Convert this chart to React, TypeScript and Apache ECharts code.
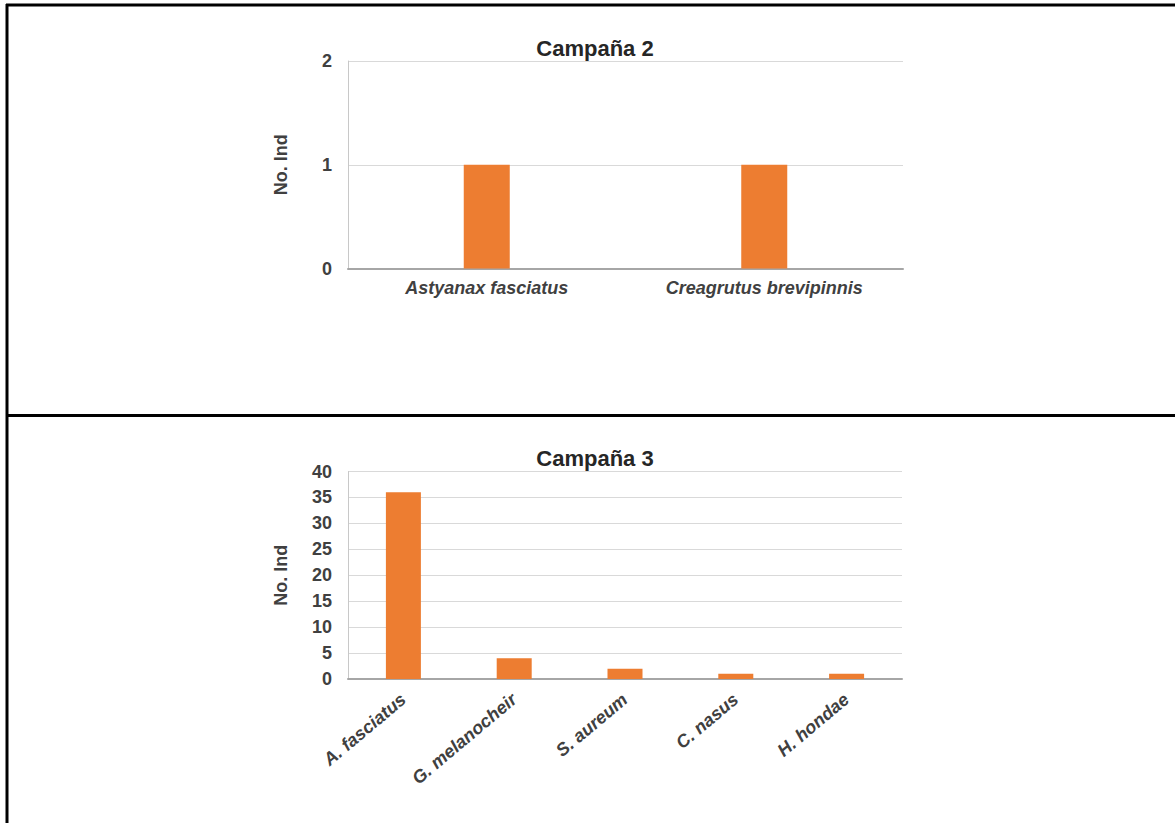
import React, { useEffect, useRef } from "react";
import * as echarts from "echarts";

// Campaña 2
const campaign2Species = ["Astyanax fasciatus", "Creagrutus brevipinnis"];
const campaign2Counts = [1, 1];
const campaign2Max = 2;
const campaign2Step = 1;

// Campaña 3
const campaign3Species = ["A. fasciatus", "G. melanocheir", "S. aureum", "C. nasus", "H. hondae"];
const campaign3Counts = [36, 4, 2, 1, 1];
const campaign3Max = 40;
const campaign3Step = 5;

const titles = ["Campaña 2", "Campaña 3"];
const axisName = "No. Ind";

const FONT = "'Liberation Sans', Arial, Helvetica, sans-serif";
const BAR = "#ED7D31";
const TEXT = "#404040";

export default function App() {
  const ref = useRef<HTMLDivElement>(null);

  useEffect(() => {
    if (!ref.current) return;
    const chart = echarts.init(ref.current, undefined, { renderer: "svg" });

    const yAxisBase = (gridIndex: number, max: number, step: number) => ({
      type: "value" as const,
      gridIndex,
      min: 0,
      max,
      interval: step,
      name: axisName,
      nameLocation: "middle" as const,
      nameGap: 58,
      nameTextStyle: { fontFamily: FONT, fontWeight: "bold", fontSize: 18, color: TEXT },
      axisLine: { show: true, lineStyle: { color: "#c8c8c8", width: 1 } },
      axisTick: { show: false },
      axisLabel: { fontFamily: FONT, fontWeight: "bold", fontSize: 18, color: TEXT, margin: 16 },
      splitLine: { show: true, lineStyle: { color: "#d9d9d9", width: 1 } },
    });

    chart.setOption({
      animation: false,
      backgroundColor: "#ffffff",
      grid: [
        { left: 348, width: 555, top: 61, height: 207.5 },
        { left: 348, width: 554, top: 471.5, height: 207.5 },
      ],
      xAxis: [
        {
          type: "category",
          gridIndex: 0,
          data: campaign2Species,
          axisLine: { lineStyle: { color: "#a6a6a6", width: 2 } },
          axisTick: { show: false },
          axisLabel: {
            fontFamily: FONT,
            fontWeight: "bold",
            fontStyle: "italic",
            fontSize: 18,
            color: TEXT,
            margin: 10,
          },
        },
        {
          type: "category",
          gridIndex: 1,
          data: campaign3Species,
          axisLine: { lineStyle: { color: "#a6a6a6", width: 2 } },
          axisTick: { show: false },
          axisLabel: {
            fontFamily: FONT,
            fontWeight: "bold",
            fontStyle: "italic",
            fontSize: 18,
            color: TEXT,
            rotate: 40,
            margin: 18,
            interval: 0,
          },
        },
      ],
      yAxis: [
        yAxisBase(0, campaign2Max, campaign2Step),
        yAxisBase(1, campaign3Max, campaign3Step),
      ],
      series: [
        {
          type: "bar",
          xAxisIndex: 0,
          yAxisIndex: 0,
          data: campaign2Counts,
          barWidth: 46,
          itemStyle: { color: BAR },
        },
        {
          type: "bar",
          xAxisIndex: 1,
          yAxisIndex: 1,
          data: campaign3Counts,
          barWidth: 35,
          itemStyle: { color: BAR },
        },
      ],
      graphic: [
        // table frame
        { type: "line", shape: { x1: 7, y1: 4, x2: 7, y2: 823 }, style: { stroke: "#000", lineWidth: 3 } },
        { type: "line", shape: { x1: 6, y1: 5, x2: 1175, y2: 5 }, style: { stroke: "#000", lineWidth: 3 } },
        { type: "line", shape: { x1: 6, y1: 415.5, x2: 1175, y2: 415.5 }, style: { stroke: "#000", lineWidth: 3 } },
        // chart titles
        {
          type: "text",
          x: 595,
          y: 48,
          style: {
            text: titles[0],
            align: "center",
            verticalAlign: "middle",
            font: `bold 22px ${FONT}`,
            fill: "#262626",
          },
        },
        {
          type: "text",
          x: 595,
          y: 458,
          style: {
            text: titles[1],
            align: "center",
            verticalAlign: "middle",
            font: `bold 22px ${FONT}`,
            fill: "#262626",
          },
        },
      ],
    });

    return () => chart.dispose();
  }, []);

  return (
    <div
      ref={ref}
      style={{ position: "absolute", left: 0, top: 0, width: 1175, height: 823, background: "#fff" }}
    />
  );
}
